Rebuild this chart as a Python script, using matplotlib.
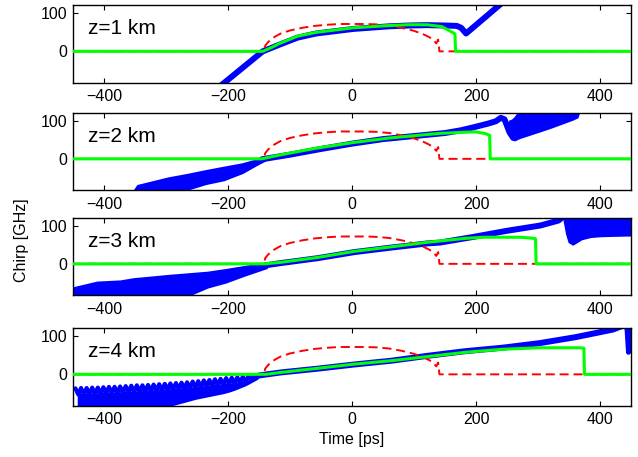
import numpy as np
import matplotlib
matplotlib.use("Agg")
import matplotlib.pyplot as plt

plt.rcParams['font.family'] = ['Liberation Sans', 'DejaVu Sans']
plt.rcParams['lines.scale_dashes'] = False

# ---------------- data ----------------
distances = ["z=1 km", "z=2 km", "z=3 km", "z=4 km"]
x_ticks = [-400, -200, 0, 200, 400]
y_ticks = [0, 100]

# input chirp (red dashed), same in every panel
red_t = [-450, -142, -140, -135, -125, -115, -100, -80, -60, -40, -20, 0, 20, 40,
         60, 80, 100, 115, 125, 131, 136, 139, 141, 450]
red_v = [0, 0, 15, 25, 38, 47, 55, 62, 67, 70, 72, 72, 72, 71,
         68, 62, 54, 45, 37, 30, 21, 31, 0, 0]

# analytic chirp (green)
g1_t = [-450, -144, -130, -118, -100, -88, -58, 2, 61, 91, 121, 145, 162, 166, 167, 450]
g1_v = [0, 0, 10, 20, 32, 40, 50, 62, 68, 70, 70, 65, 50, 46, 0, 0]
g2_t = [-450, -146, -117, -88, -58, 2, 61, 121, 142, 180, 200, 216, 222, 223, 450]
g2_v = [0, 0, 10, 19, 28, 43, 55, 64, 67, 70, 71, 66, 62, 0, 0]
g3_t = [-450, -141, -115, -55, 4, 64, 123, 182, 212, 271, 289, 296, 297, 450]
g3_v = [0, 0, 4, 17, 33, 45, 57, 67, 70, 70, 68, 66, 0, 0]
g4_t = [-450, -139, -115, -55, 4, 64, 123, 183, 242, 302, 367, 374, 375, 450]
g4_v = [0, 0, 5, 16, 27, 36, 47, 58, 66, 70, 70, 69, 0, 0]

# simulated chirp (blue), main trace
b1_t = [-235, -204, -144, -118, -88, -58, 2, 61, 91, 121, 150, 169, 176, 184, 238, 262]
b1_v = [-122, -80, 0, 17, 36, 47, 59, 66, 68, 69, 68, 67, 62, 47, 122, 157]
b2_t = [-145, -100, -50, 0, 50, 100, 150, 175, 196, 220, 232, 240, 246, 254, 260]
b2_v = [-1, 11, 26, 40, 52, 60, 68, 75, 83, 93, 99, 108, 104, 70, 55]
b3_t = [-140, -115, -55, 4, 64, 123, 142, 196, 250, 304, 333, 345]
b3_v = [-4, 2, 15, 31, 43, 54, 56, 71, 87, 101, 114, 130]
b4_t = [-150, -115, -55, 4, 64, 123, 183, 242, 302, 361, 391, 421, 440]
b4_v = [-3, 5, 15, 26, 36, 49, 61, 70, 82, 98, 108, 118, 130]
b4_edge_t = [443, 446, 450]
b4_edge_v = [135, 58, 135]

# oscillating parts of the blue trace (envelopes)
b2_left_t = [-356, -346, -296, -266, -236, -207, -177, -153, -140]
b2_left_hi = [-95, -70, -50, -41, -31, -22, -13, -2, 2]
b2_left_lo = [-100, -95, -95, -80, -65, -55, -36, -14, -3]
b2_right_t = [254, 258, 262, 270, 285, 300, 320, 340, 355, 363, 368]
b2_right_lo = [75, 55, 50, 56, 64, 72, 83, 95, 104, 110, 135]
b2_right_hi = [100, 102, 108, 125, 135, 135, 135, 135, 135, 135, 135]

b3_left_t = [-450, -411, -374, -352, -293, -263, -233, -204, -174, -138]
b3_left_hi = [-63, -48, -45, -39, -30, -26, -22, -15, -7, 2]
b3_left_lo = [-100, -100, -100, -100, -95, -82, -61, -48, -30, -10]
b3_right_t = [342, 346, 350, 356, 362, 370, 385, 400, 420, 450]
b3_right_lo = [115, 80, 58, 52, 58, 66, 72, 74, 75, 76]
b3_right_hi = [135, 135, 135, 135, 135, 135, 135, 135, 135, 135]

# z=4 km: resolved oscillation -- crests, notch bottoms and lower edge
b4_crest_t = [-446, -437, -428, -419, -410, -401, -392, -383, -374, -365, -356, -347,
              -338, -329, -320, -311, -302, -293, -284, -275, -266, -257, -248, -239,
              -230, -221, -212, -203, -194, -185, -176, -167, -158, -149]
b4_crest_v = [-37, -36, -36, -35, -35, -34, -33, -33, -32, -31, -30, -29,
              -29, -28, -27, -26, -25, -24, -23, -22, -21, -19, -18, -16,
              -15, -13, -12, -10, -9, -8, -6, -5, -3, -2]
b4_notch_t = [-441.5, -432.5, -423.5, -414.5, -405.5, -396.5, -387.5, -378.5, -369.5,
              -360.5, -351.5, -342.5, -333.5, -324.5, -315.5, -306.5, -297.5, -288.5,
              -279.5, -270.5, -261.5, -252.5, -243.5, -234.5, -225.5, -216.5, -207.5,
              -198.5, -189.5, -180.5, -171.5, -162.5, -153.5]
b4_notch_v = [-53, -53, -52, -52, -51, -50, -50, -49, -48,
              -47, -46, -46, -45, -44, -43, -42, -41, -40,
              -39, -38, -36, -35, -34, -32, -30, -29, -27,
              -26, -24, -22, -20, -15, -9]
b4_low_v = [-100, -100, -100, -100, -100, -100, -100, -100, -100,
            -100, -100, -100, -100, -100, -100, -88, -83, -79,
            -75, -71, -67, -63, -60, -57, -54, -51, -48,
            -44, -39, -33, -27, -19, -11]

greens = [(g1_t, g1_v), (g2_t, g2_v), (g3_t, g3_v), (g4_t, g4_v)]
blues = [(b1_t, b1_v), (b2_t, b2_v), (b3_t, b3_v), (b4_t, b4_v)]
bands = [
    [],
    [(b2_left_t, b2_left_lo, b2_left_hi), (b2_right_t, b2_right_lo, b2_right_hi)],
    [(b3_left_t, b3_left_lo, b3_left_hi), (b3_right_t, b3_right_lo, b3_right_hi)],
    [(b4_notch_t, b4_low_v, b4_notch_v)],
]

BLUE = (0, 0, 1)
GREEN = (0, 1, 0)
RED = (1, 0, 0)

# ---------------- figure ----------------
W, H = 638, 457
fig = plt.figure(figsize=(W / 100, H / 100), dpi=100)
tops = [5, 112.5, 217.5, 328]
ph = 77.5
axes = []
for i, top in enumerate(tops):
    ax = fig.add_axes([73 / W, 1 - (top + ph) / H, 558 / W, ph / H])
    axes.append(ax)

    for t, lo, hi in bands[i]:
        ax.fill_between(t, lo, hi, color=BLUE, lw=1.5, edgecolor=BLUE, zorder=2)

    if i == 3:
        zz = np.empty(len(b4_crest_t) + len(b4_notch_t))
        zv = np.empty_like(zz)
        zz[0::2] = b4_crest_t
        zz[1::2] = b4_notch_t
        zv[0::2] = b4_crest_v
        zv[1::2] = b4_notch_v
        ax.plot(zz, zv, color=BLUE, lw=3.0, solid_joinstyle='round',
                solid_capstyle='round', zorder=2)
        ax.plot(b4_edge_t, b4_edge_v, color=BLUE, lw=3.6,
                solid_capstyle='round', zorder=2)

    bt, bv = blues[i]
    ax.plot(bt, bv, color=BLUE, lw=4.3, solid_capstyle='round',
            solid_joinstyle='round', zorder=2)

    ax.plot(red_t, red_v, color=RED, lw=1.4, ls=(0, (6.5, 3.5)), zorder=3)

    gt, gv = greens[i]
    ax.plot(gt, gv, color=GREEN, lw=2.2, zorder=4)

    ax.text(-425, 60, distances[i], fontsize=15, va='center', ha='left', zorder=5)

    ax.set_xlim(-450, 450)
    ax.set_ylim(-82, 122)
    ax.set_xticks(x_ticks)
    ax.set_yticks(y_ticks)
    ax.tick_params(direction='in', top=True, right=True, length=3.5, width=0.8,
                   labelsize=11.5, pad=4)
    ax.tick_params(axis='x', pad=5)
    for s in ax.spines.values():
        s.set_linewidth(1.0)

axes[-1].set_xlabel('Time [ps]', fontsize=11.5, labelpad=3)
fig.text(22 / W, 1 - 240 / H, 'Chirp [GHz]', rotation=90, fontsize=11.5,
         ha='center', va='center')

fig.savefig('out.png', dpi=100)
